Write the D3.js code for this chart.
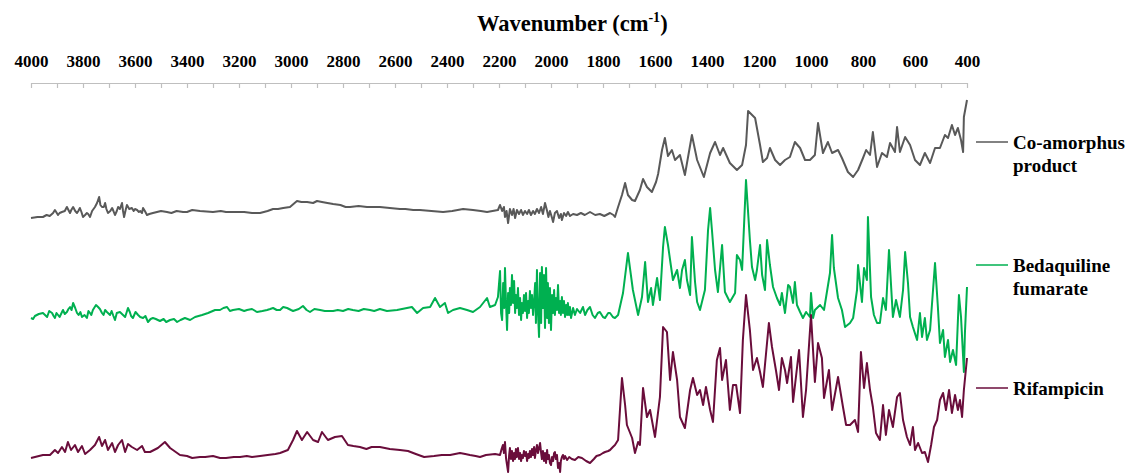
<!DOCTYPE html>
<html>
<head>
<meta charset="utf-8">
<script src="https://cdn.jsdelivr.net/npm/d3@7"></script>
<style>
  body { margin: 0; background: #fff; }
  text { font-family: "Liberation Serif", "Times New Roman", serif; font-weight: bold; fill: #000; }
  .trace { fill: none; stroke-width: 2; stroke-linejoin: round; }
</style>
</head>
<body>
<svg id="chart" width="1131" height="473"></svg>
<script>
// [wavenumber (cm-1), intensity (a.u., stacked offset)]
const coAmorphous = [[4000,255],[3975,256],[3954,256],[3940,258],[3928,257],[3915,260],[3908,263],[3896,258],[3890,260],[3881,261],[3870,262],[3862,266],[3850,260],[3845,263],[3838,266],[3830,262],[3823,260],[3818,262],[3812,265],[3806,261],[3800,256],[3792,258],[3785,260],[3780,259],[3773,256],[3765,262],[3754,266],[3746,270],[3738,276],[3733,268],[3727,266],[3720,266],[3715,270],[3710,264],[3704,260],[3695,262],[3688,265],[3683,262],[3677,258],[3670,262],[3665,266],[3658,264],[3650,270],[3646,262],[3642,256],[3636,263],[3631,268],[3622,264],[3612,265],[3605,262],[3600,264],[3592,263],[3585,261],[3580,262],[3573,260],[3569,265],[3562,262],[3554,258],[3545,259],[3531,260],[3500,262],[3477,261],[3460,260],[3440,262],[3415,261],[3400,261],[3380,263],[3350,262],[3300,261],[3270,262],[3250,261],[3223,261],[3180,261],[3150,260],[3119,260],[3090,262],[3069,264],[3050,264],[3030,265],[3004,266],[2977,272],[2960,271],[2938,271],[2915,270],[2900,272],[2881,271],[2860,270],[2838,269],[2810,268],[2790,266],[2773,266],[2740,267],[2708,266],[2680,266],[2658,266],[2620,265],[2581,264],[2560,264],[2530,263],[2504,263],[2460,262],[2415,261],[2380,262],[2338,264],[2300,263],[2270,262],[2246,261],[2204,263],[2196,268],[2188,262],[2181,266],[2177,256],[2171,262],[2165,250],[2158,264],[2150,258],[2144,264],[2138,255],[2131,263],[2123,259],[2115,263],[2108,258],[2100,262],[2092,259],[2085,263],[2077,258],[2069,262],[2062,259],[2054,264],[2046,260],[2038,266],[2031,259],[2023,270],[2015,262],[2010,256],[2004,262],[1996,255],[1992,251],[1985,260],[1977,262],[1969,255],[1962,259],[1958,253],[1950,260],[1942,257],[1935,261],[1927,257],[1915,259],[1900,258],[1885,260],[1870,258],[1850,261],[1830,258],[1812,259],[1795,257],[1773,260],[1760,258],[1754,256],[1742,266],[1727,278],[1715,290],[1704,278],[1688,273],[1677,272],[1658,283],[1646,294],[1631,286],[1612,281],[1596,291],[1588,299],[1573,323],[1562,335],[1550,317],[1535,323],[1523,313],[1504,318],[1485,298],[1458,338],[1438,313],[1412,296],[1388,320],[1369,331],[1350,318],[1338,325],[1312,310],[1285,303],[1265,308],[1250,328],[1242,362],[1215,355],[1196,328],[1185,311],[1169,315],[1158,325],[1138,313],[1119,308],[1100,313],[1081,316],[1062,331],[1042,325],[1023,313],[1004,313],[985,318],[973,350],[954,320],[935,331],[919,320],[896,323],[881,315],[858,301],[838,296],[819,303],[800,315],[788,323],[773,318],[762,341],[746,306],[727,320],[708,316],[696,330],[677,321],[669,346],[658,321],[638,336],[619,328],[600,313],[581,308],[562,320],[542,310],[523,325],[504,325],[485,338],[473,335],[458,348],[446,338],[435,345],[423,333],[415,321],[412,356],[400,373]];

const bedaquiline = [[4000,155],[3992,154],[3985,157],[3970,159],[3954,160],[3946,158],[3938,156],[3930,162],[3919,160],[3913,157],[3908,155],[3902,160],[3896,158],[3890,156],[3877,163],[3870,159],[3862,161],[3856,164],[3850,166],[3844,163],[3838,170],[3830,165],[3823,160],[3817,158],[3810,161],[3804,156],[3794,158],[3785,155],[3779,162],[3773,160],[3768,158],[3762,163],[3750,168],[3742,166],[3735,164],[3727,160],[3721,158],[3715,163],[3708,161],[3696,158],[3690,162],[3683,157],[3677,153],[3670,160],[3658,161],[3646,158],[3638,156],[3633,160],[3627,165],[3620,161],[3615,157],[3608,155],[3598,161],[3588,158],[3580,156],[3569,155],[3560,157],[3550,151],[3540,154],[3531,155],[3520,154],[3504,152],[3490,154],[3480,151],[3465,153],[3450,154],[3438,151],[3425,153],[3408,155],[3388,153],[3369,156],[3342,158],[3319,160],[3292,163],[3273,163],[3260,165],[3246,166],[3235,162],[3223,163],[3200,164],[3180,162],[3169,163],[3150,164],[3131,161],[3110,162],[3092,163],[3080,164],[3069,165],[3055,163],[3042,163],[3030,166],[3015,165],[3000,163],[2992,162],[2970,164],[2954,167],[2940,163],[2927,161],[2910,164],[2888,163],[2870,162],[2838,162],[2820,163],[2800,162],[2780,164],[2762,163],[2740,162],[2720,164],[2696,163],[2680,162],[2658,164],[2631,162],[2592,163],[2554,165],[2535,166],[2515,160],[2492,165],[2465,166],[2446,175],[2427,166],[2408,170],[2396,160],[2377,163],[2350,165],[2323,163],[2300,161],[2273,166],[2246,175],[2235,166],[2215,168],[2204,176],[2196,202],[2192,160],[2188,153],[2184,190],[2180,165],[2177,205],[2173,170],[2169,143],[2165,180],[2161,160],[2158,185],[2154,168],[2150,198],[2146,170],[2142,192],[2138,160],[2135,178],[2131,165],[2127,185],[2123,158],[2119,175],[2115,153],[2112,170],[2108,160],[2104,178],[2100,162],[2096,180],[2092,155],[2088,172],[2085,160],[2081,182],[2077,165],[2073,178],[2069,158],[2065,172],[2061,190],[2058,150],[2054,203],[2050,160],[2046,136],[2042,200],[2038,150],[2035,206],[2031,165],[2027,198],[2023,145],[2019,205],[2015,155],[2012,190],[2008,150],[2004,185],[2000,143],[1996,178],[1992,160],[1988,183],[1985,158],[1981,175],[1977,163],[1973,188],[1969,160],[1965,172],[1962,158],[1958,176],[1954,160],[1950,172],[1946,156],[1942,168],[1938,158],[1935,170],[1931,158],[1927,166],[1923,155],[1915,165],[1908,158],[1900,164],[1888,160],[1877,166],[1869,158],[1860,163],[1850,166],[1840,158],[1831,155],[1820,160],[1812,161],[1800,156],[1792,155],[1780,160],[1773,160],[1762,156],[1754,155],[1742,158],[1723,180],[1704,220],[1685,183],[1665,158],[1650,176],[1638,211],[1627,171],[1615,185],[1608,168],[1592,195],[1581,173],[1569,226],[1562,246],[1550,228],[1542,213],[1531,193],[1515,203],[1504,185],[1496,203],[1485,213],[1477,193],[1465,178],[1458,236],[1446,191],[1438,171],[1427,163],[1408,183],[1396,243],[1388,265],[1381,243],[1369,203],[1358,181],[1342,228],[1331,181],[1312,171],[1292,180],[1285,218],[1273,213],[1265,203],[1250,293],[1235,233],[1227,206],[1215,193],[1208,203],[1196,228],[1188,198],[1177,183],[1169,233],[1158,208],[1146,186],[1131,175],[1119,168],[1112,180],[1100,160],[1088,188],[1081,186],[1069,170],[1062,191],[1054,168],[1042,161],[1031,155],[1019,161],[1004,156],[1000,180],[992,155],[985,163],[965,168],[950,163],[927,200],[919,238],[912,205],[896,175],[881,163],[869,146],[850,150],[838,155],[823,183],[819,208],[804,171],[796,205],[785,193],[781,256],[769,176],[758,158],[746,150],[735,150],[723,175],[712,163],[700,223],[685,156],[673,173],[658,156],[646,183],[638,221],[627,190],[619,156],[608,146],[592,133],[581,160],[573,136],[562,155],[554,133],[542,143],[523,210],[512,166],[504,130],[492,143],[485,116],[473,133],[465,111],[454,123],[442,108],[431,178],[423,156],[412,101],[408,140],[400,186]];

const rifampicin = [[4000,15],[3954,18],[3927,18],[3908,23],[3896,20],[3881,26],[3869,21],[3858,31],[3846,23],[3831,28],[3819,21],[3804,27],[3792,19],[3773,23],[3754,28],[3738,36],[3727,27],[3715,33],[3704,23],[3688,30],[3677,21],[3665,28],[3650,33],[3638,21],[3627,29],[3612,26],[3592,23],[3573,27],[3562,21],[3542,21],[3512,25],[3485,31],[3465,25],[3427,18],[3400,17],[3380,15],[3350,16],[3330,16],[3300,17],[3273,15],[3250,15],[3220,16],[3196,16],[3170,17],[3150,16],[3119,17],[3090,18],[3060,19],[3042,20],[3012,23],[2992,33],[2977,42],[2958,33],[2938,41],[2915,33],[2896,31],[2881,41],[2858,33],[2831,36],[2804,37],[2781,28],[2760,27],[2735,26],[2710,24],[2690,26],[2658,26],[2620,24],[2581,23],[2550,22],[2520,19],[2488,16],[2450,17],[2420,18],[2388,18],[2350,20],[2330,19],[2312,18],[2290,17],[2273,16],[2250,18],[2215,19],[2196,18],[2190,24],[2185,28],[2181,20],[2177,31],[2173,15],[2169,8],[2165,1],[2161,18],[2158,25],[2154,14],[2150,22],[2146,12],[2142,20],[2138,14],[2135,24],[2131,16],[2127,25],[2123,14],[2119,20],[2115,12],[2112,18],[2108,15],[2104,22],[2100,17],[2096,21],[2092,12],[2088,19],[2085,15],[2081,22],[2077,16],[2073,24],[2069,18],[2065,26],[2062,15],[2058,22],[2054,28],[2050,20],[2046,25],[2042,30],[2038,20],[2035,14],[2031,22],[2027,12],[2023,20],[2019,10],[2015,23],[2012,14],[2008,18],[2004,10],[2000,8],[1996,16],[1992,12],[1988,20],[1985,21],[1981,14],[1977,18],[1973,5],[1969,10],[1965,1],[1962,12],[1958,16],[1954,18],[1950,14],[1946,17],[1938,13],[1930,16],[1920,14],[1908,13],[1895,16],[1881,15],[1865,12],[1850,10],[1835,14],[1825,17],[1812,18],[1800,20],[1792,21],[1780,22],[1773,23],[1762,26],[1754,28],[1742,33],[1727,95],[1715,68],[1708,48],[1688,35],[1677,20],[1665,31],[1658,28],[1646,85],[1631,56],[1619,63],[1600,36],[1581,76],[1569,146],[1554,141],[1542,93],[1531,121],[1515,93],[1504,56],[1485,45],[1465,83],[1454,95],[1438,78],[1427,83],[1415,68],[1404,86],[1388,63],[1377,51],[1362,113],[1350,125],[1342,93],[1327,113],[1312,63],[1300,88],[1288,88],[1273,60],[1262,133],[1250,178],[1235,143],[1223,103],[1208,115],[1196,101],[1185,86],[1162,150],[1150,126],[1135,103],[1123,83],[1112,115],[1100,103],[1092,90],[1077,116],[1069,71],[1046,123],[1031,56],[1019,83],[1000,158],[985,91],[973,130],[958,115],[950,75],[931,103],[919,63],[896,96],[877,66],[865,48],[850,48],[831,53],[819,41],[808,121],[796,85],[785,110],[773,83],[762,66],[750,40],[735,33],[723,68],[712,38],[700,63],[685,46],[669,76],[658,80],[646,53],[631,36],[619,28],[608,46],[600,23],[588,30],[573,20],[562,21],[550,11],[538,28],[527,46],[515,53],[504,73],[492,80],[481,63],[469,83],[458,60],[446,78],[435,63],[427,73],[419,56],[412,83],[400,115]];

const seriesNames = [["Co-amorphus", "product"], ["Bedaquiline", "fumarate"], ["Rifampicin"]];
const seriesColors = ["#595959", "#00b050", "#6a0d3b"];
const seriesData = [coAmorphous, bedaquiline, rifampicin];
// where each legend entry sits on the intensity scale
const legendLevels = [331, 208, 85];
const xTicks = d3.range(400, 4001, 100);

const svg = d3.select("#chart");
const axisY = 83;

const x = d3.scaleLinear().domain([4000, 400]).range([31, 967]);
const y = d3.scaleLinear().domain([0, 473]).range([473, 0]);

// Top axis: labels above, small ticks pointing down
const axis = svg.append("g")
  .attr("transform", `translate(0,${axisY})`)
  .call(
    d3.axisTop(x)
      .tickValues(xTicks)
      .tickSizeInner(-5)
      .tickSizeOuter(0)
      .tickPadding(16)
      .tickFormat((d) => (d % 200 === 0 ? d : ""))
  );
axis.select(".domain").attr("stroke", "#bfbfbf").attr("stroke-width", 1.2);
axis.selectAll(".tick line").attr("stroke", "#bfbfbf").attr("stroke-width", 1.2);
axis.selectAll(".tick text")
  .attr("font-family", "Liberation Serif")
  .attr("font-size", 17)
  .attr("font-weight", "bold")
  .attr("fill", "#000");

// Axis title
const title = svg.append("text")
  .attr("x", 477)
  .attr("y", 31)
  .attr("font-size", 22.5);
title.append("tspan").text("Wavenumber (cm");
title.append("tspan").attr("font-size", 14).attr("dy", -9).text("-1");
title.append("tspan").attr("dy", 9).text(")");

// Spectra (sorted from high to low wavenumber)
const line = d3.line()
  .x((d) => x(d[0]))
  .y((d) => y(d[1]));

svg.selectAll(".trace")
  .data(seriesData.map((s) => s.slice().sort((a, b) => b[0] - a[0])))
  .join("path")
  .attr("class", "trace")
  .attr("stroke", (d, i) => seriesColors[i])
  .attr("d", line);

// Legend labels on the right
const legend = svg.selectAll(".legend")
  .data(seriesNames)
  .join("g")
  .attr("class", "legend")
  .attr("transform", (d, i) => `translate(976,${y(legendLevels[i])})`);

legend.append("line")
  .attr("x1", 0)
  .attr("x2", 32)
  .attr("stroke", (d, i) => seriesColors[i])
  .attr("stroke-width", 1.5);

legend.append("text")
  .attr("x", 37)
  .attr("y", 7)
  .attr("font-size", 19)
  .selectAll("tspan")
  .data((d) => d)
  .join("tspan")
  .attr("x", 37)
  .attr("dy", (d, i) => (i === 0 ? 0 : 22.5))
  .text((d) => d);
</script>
</body>
</html>
